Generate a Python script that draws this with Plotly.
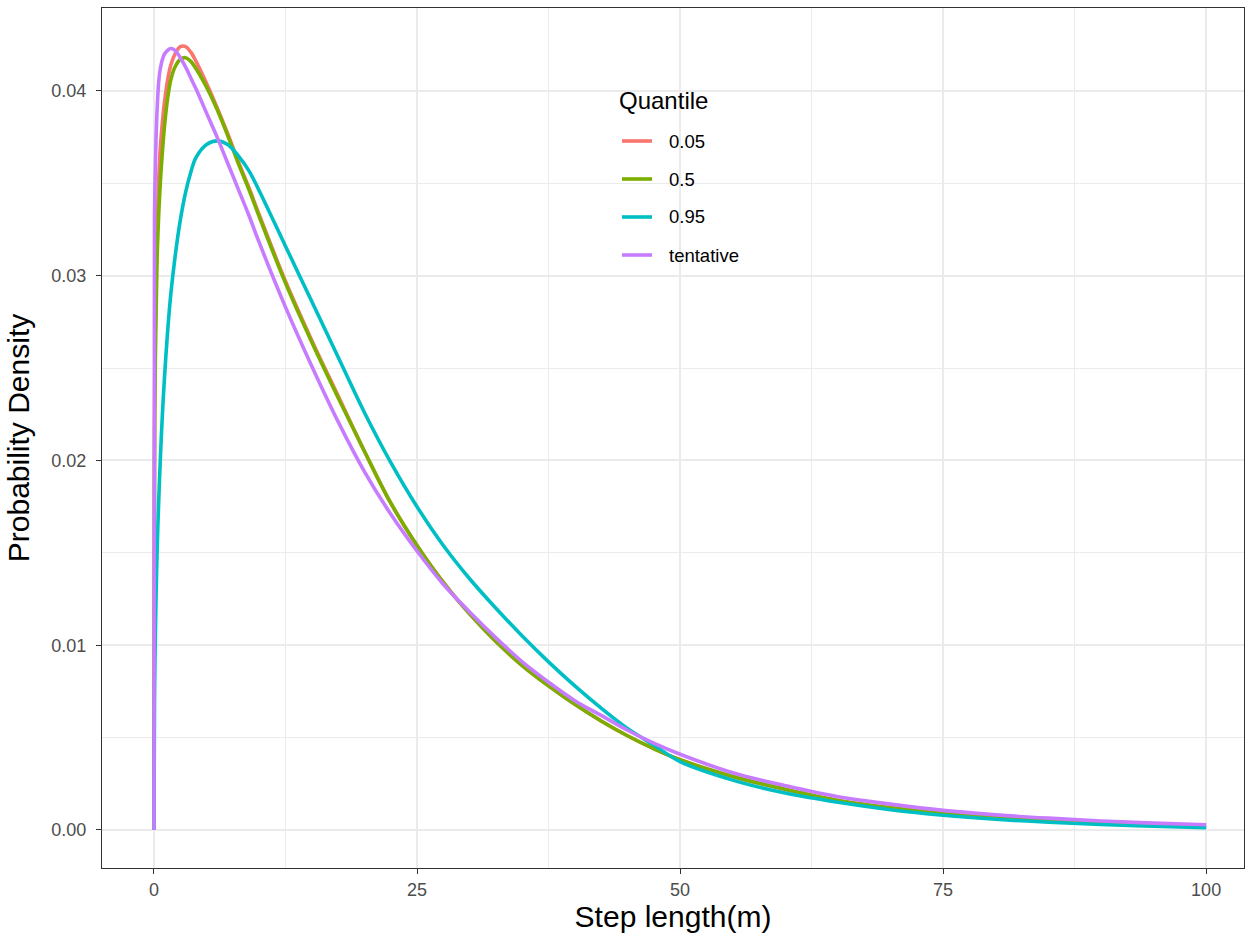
import plotly.graph_objects as go

# Step length (m) sample positions
step_length = [0, 0.05, 0.1, 0.2, 0.3, 0.45, 0.6, 0.8, 1.0, 1.3, 1.6, 2.0, 2.5, 3.0, 3.5, 4,
               5, 6, 7, 8, 9, 10, 12.5, 15, 17.5, 20, 22.5, 25, 27.5, 30, 32.5, 35, 37.5, 40,
               42.5, 45, 47.5, 50, 55, 60, 65, 70, 75, 80, 85, 90, 95, 100]

# Probability density per quantile
q005 = [0, 0.022, 0.026, 0.030, 0.0328, 0.0352, 0.0369, 0.0383, 0.0394, 0.0406, 0.0414, 0.0420,
        0.0424, 0.0424, 0.0421, 0.0416, 0.0404, 0.0391, 0.0377, 0.0362, 0.0348, 0.0333,
        0.0297, 0.0265, 0.0235, 0.0205, 0.0177, 0.0154, 0.0134, 0.0117, 0.0102, 0.0089, 0.0078,
        0.0068, 0.0059, 0.0051, 0.0044, 0.0038, 0.0029, 0.0022, 0.0016, 0.0012, 0.00090,
        0.00067, 0.00050, 0.00037, 0.00026, 0.00018]
q050 = [0, 0.020, 0.024, 0.028, 0.031, 0.0333, 0.0350, 0.0367, 0.0381, 0.0396, 0.0406, 0.0413,
        0.0417, 0.0418, 0.0416, 0.0412, 0.0402, 0.0390, 0.0376, 0.0361, 0.0347, 0.0332,
        0.0296, 0.0264, 0.0234, 0.0205, 0.0177, 0.0154, 0.0134, 0.0117, 0.0102, 0.0089, 0.0078,
        0.0068, 0.0059, 0.0051, 0.0044, 0.0038, 0.0029, 0.0022, 0.0016, 0.0012, 0.00090,
        0.00067, 0.00050, 0.00037, 0.00026, 0.00018]
q095 = [0, 0.0069, 0.0094, 0.0127, 0.0151, 0.0178, 0.0200, 0.0225, 0.0245, 0.0270, 0.0290, 0.0310,
        0.0330, 0.0345, 0.0356, 0.0364, 0.0371, 0.0373, 0.0371, 0.0365, 0.0357, 0.0346,
        0.0316, 0.0286, 0.0256, 0.0226, 0.0199, 0.0175, 0.0154, 0.0136, 0.0120, 0.0105, 0.0091,
        0.0078, 0.0066, 0.0055, 0.0046, 0.0037, 0.0027, 0.0020, 0.0015, 0.0011, 0.00080,
        0.00058, 0.00042, 0.00030, 0.00020, 0.00013]
tentative = [0, 0.0330, 0.0350, 0.0375, 0.0390, 0.0405, 0.0412, 0.0417, 0.0420, 0.0422, 0.0423,
             0.0422, 0.0418, 0.0413, 0.0407, 0.0401, 0.0388, 0.0375, 0.0361, 0.0347, 0.0333, 0.0318,
             0.0283, 0.0251, 0.0221, 0.0194, 0.0171, 0.0151, 0.0133, 0.0118, 0.0104, 0.0091, 0.0080,
             0.0070, 0.0062, 0.0054, 0.0047, 0.0041, 0.0031, 0.0024, 0.0018, 0.0014, 0.00106,
             0.00082, 0.00064, 0.00049, 0.00037, 0.00028]

series_names = ["0.05", "0.5", "0.95", "tentative"]
series_values = [q005, q050, q095, tentative]
series_colors = ["#F8766D", "#7CAE00", "#00BFC4", "#C77CFF"]
legend_title = "Quantile"

x_ticks = [0, 25, 50, 75, 100]
y_ticks = [0, 0.01, 0.02, 0.03, 0.04]
y_tick_labels = ["0.00", "0.01", "0.02", "0.03", "0.04"]

FONT = "Liberation Sans, Arial, sans-serif"
L, R, T, B = 102, 11, 8, 71
PW, PH = 1255 - L - R, 939 - T - B


def px_x(p):
    return (p - L) / PW


def px_y(p):
    return 1 - (p - T) / PH


fig = go.Figure()
for name, vals, col in zip(series_names, series_values, series_colors):
    fig.add_trace(go.Scatter(
        x=step_length, y=vals, mode="lines", name=name, showlegend=False,
        line=dict(color=col, width=3.6, shape="spline", smoothing=1.0),
    ))

# ggplot-style legend: white box, title, key lines and labels
fig.add_shape(type="rect", xref="paper", yref="paper",
              x0=px_x(605), x1=px_x(755), y0=px_y(285), y1=px_y(75),
              fillcolor="white", line=dict(width=0), layer="between")
fig.add_annotation(text=legend_title, xref="paper", yref="paper",
                   x=px_x(617), y=px_y(100), xanchor="left", yanchor="middle",
                   showarrow=False, font=dict(size=24, color="black", family=FONT))
for i, (name, col) in enumerate(zip(series_names, series_colors)):
    yc = 141 + 38 * i
    fig.add_shape(type="line", xref="paper", yref="paper",
                  x0=px_x(622), x1=px_x(652), y0=px_y(yc), y1=px_y(yc),
                  line=dict(color=col, width=3.6), layer="above")
    fig.add_annotation(text=name, xref="paper", yref="paper",
                       x=px_x(667), y=px_y(yc), xanchor="left", yanchor="middle",
                       showarrow=False, font=dict(size=18.5, color="black", family=FONT))

fig.update_layout(
    width=1255, height=939,
    margin=dict(l=L, r=R, t=T, b=B),
    paper_bgcolor="white", plot_bgcolor="white",
    font=dict(family=FONT, color="#4D4D4D"),
    showlegend=False,
    xaxis=dict(
        range=[-4.94, 103.6],
        tickvals=x_ticks, ticktext=[str(v) for v in x_ticks],
        tickfont=dict(size=18, color="#4D4D4D"),
        ticks="outside", ticklen=5, tickwidth=1.1, tickcolor="#333333",
        showgrid=True, gridcolor="#EBEBEB", gridwidth=1.6,
        minor=dict(tickvals=[12.5, 37.5, 62.5, 87.5], showgrid=True,
                   gridcolor="#EBEBEB", gridwidth=0.8, ticks=""),
        showline=True, linecolor="#333333", linewidth=1.2, mirror=True,
        zeroline=False,
        title=dict(text="Step length(m)", font=dict(size=30, color="black"), standoff=6),
    ),
    yaxis=dict(
        range=[-0.002057, 0.04449],
        tickvals=y_ticks, ticktext=y_tick_labels,
        tickfont=dict(size=18, color="#4D4D4D"),
        ticks="outside", ticklen=5, tickwidth=1.1, tickcolor="#333333",
        ticklabelstandoff=6,
        showgrid=True, gridcolor="#EBEBEB", gridwidth=1.6,
        minor=dict(tickvals=[0.005, 0.015, 0.025, 0.035], showgrid=True,
                   gridcolor="#EBEBEB", gridwidth=0.8, ticks=""),
        showline=True, linecolor="#333333", linewidth=1.2, mirror=True,
        zeroline=False,
        title=dict(text="Probability Density", font=dict(size=30, color="black"), standoff=12),
    ),
)

fig.write_html("out.html", config={"displayModeBar": False},
               post_script="document.body.style.margin='0px';document.body.style.overflow='hidden';")
